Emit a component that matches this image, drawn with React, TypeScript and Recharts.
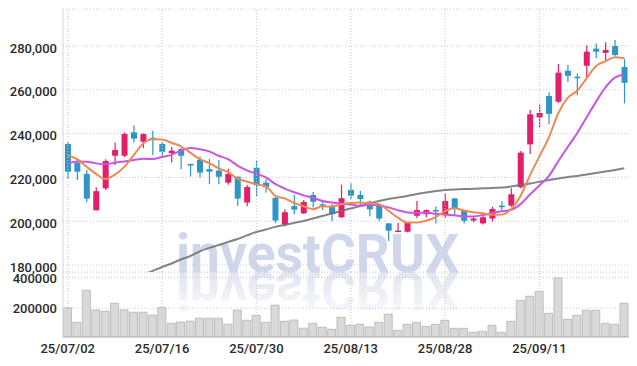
import React from 'react';
import { ComposedChart, Bar, Line, XAxis, YAxis, CartesianGrid, ReferenceLine } from 'recharts';

const dates = [
  '25/07/02', '25/07/03', '25/07/04', '25/07/07', '25/07/08', '25/07/09', '25/07/10', '25/07/11', '25/07/14', '25/07/15',
  '25/07/16', '25/07/17', '25/07/18', '25/07/21', '25/07/22', '25/07/23', '25/07/24', '25/07/25', '25/07/28', '25/07/29',
  '25/07/30', '25/07/31', '25/08/01', '25/08/04', '25/08/05', '25/08/06', '25/08/07', '25/08/08', '25/08/11', '25/08/12',
  '25/08/13', '25/08/14', '25/08/18', '25/08/19', '25/08/20', '25/08/21', '25/08/22', '25/08/25', '25/08/26', '25/08/27',
  '25/08/28', '25/08/29', '25/09/01', '25/09/02', '25/09/03', '25/09/04', '25/09/05', '25/09/08', '25/09/09', '25/09/10',
  '25/09/11', '25/09/12', '25/09/15', '25/09/16', '25/09/17', '25/09/18', '25/09/19', '25/09/22', '25/09/23', '25/09/24',
];

const opens = [
  235250, 226700, 221600, 205000, 215000, 229900, 229900, 240600, 236300, 238100,
  235300, 231100, 233000, 226100, 228000, 223800, 223100, 217600, 220300, 208500,
  224400, 217600, 210700, 198500, 206900, 203600, 212000, 207700, 206500, 201800,
  214300, 212000, 208900, 207400, 199000, 195200, 195200, 202500, 203200, 205100,
  203200, 210400, 204700, 200300, 199000, 201200, 207100, 207100, 215500, 235100,
  247400, 257200, 254600, 268700, 266000, 271000, 278800, 276900, 280000, 270400,
];
const highs = [
  236300, 228400, 223400, 215500, 228300, 235900, 240500, 243800, 240100, 241300,
  236300, 233900, 233600, 226300, 229500, 228400, 228000, 224000, 220400, 216500,
  227700, 219100, 210900, 205400, 212000, 209700, 213300, 209700, 207900, 216700,
  217300, 213900, 209500, 207600, 199100, 199300, 199400, 209200, 205300, 206700,
  212700, 210600, 204800, 201900, 202400, 206600, 209100, 215000, 232100, 250800,
  253300, 258800, 271800, 271300, 267400, 280200, 281200, 281700, 282700, 274100,
];
const lows = [
  219300, 218800, 208600, 204900, 214300, 225700, 229300, 235900, 233300, 230200,
  229500, 226800, 223700, 220400, 219900, 216900, 216900, 216700, 206900, 206800,
  211500, 213000, 199200, 197700, 203200, 203300, 206300, 205100, 200100, 201500,
  210100, 207400, 202300, 200100, 191000, 195200, 194900, 201300, 201800, 199000,
  201500, 202800, 199000, 199600, 198500, 199800, 204800, 206600, 215000, 230700,
  242800, 244300, 254000, 263600, 257500, 265700, 274400, 272700, 275200, 253800,
];
const closes = [
  222600, 222600, 210300, 213700, 227500, 232500, 239800, 237700, 239800, 237400,
  231700, 232200, 229900, 225400, 222200, 222600, 220300, 221600, 210300, 215600,
  216400, 215500, 200300, 204100, 205300, 208800, 208900, 207100, 203300, 210500,
  211700, 210100, 205400, 201200, 195700, 195700, 199200, 205100, 205100, 204500,
  209200, 205600, 200200, 201200, 201800, 205600, 206400, 212300, 231300, 248800,
  249400, 249000, 267800, 266400, 265400, 277400, 277400, 278200, 275900, 263200,
];
const volumes = [
  203000, 108500, 318000, 189000, 181000, 232700, 189000, 174000, 174000, 155000,
  205000, 102000, 110500, 116000, 135000, 135000, 135000, 96000, 188000, 121600,
  154000, 108500, 220000, 115000, 123500, 70000, 102000, 76000, 63000, 141000,
  89000, 95500, 78000, 108500, 161000, 56000, 95500, 108500, 82000, 95500,
  121600, 69300, 69300, 43100, 49700, 89000, 43100, 115000, 252300, 278400,
  311000, 167300, 398000, 128100, 154000, 187000, 187000, 102000, 95500, 232700,
];
const ma5 = [
  230100, 228300, 224900, 221600, 219300, 221300, 224800, 230200, 235500, 237400,
  237300, 235800, 234200, 231300, 228300, 226500, 224100, 222400, 219400, 218100,
  216800, 215900, 211600, 210400, 208300, 206800, 205500, 206800, 206700, 207700,
  208300, 208500, 208200, 207800, 204800, 201600, 199400, 199400, 200200, 201900,
  204600, 205900, 204900, 204100, 203600, 202900, 203000, 205500, 211500, 220900,
  229600, 238200, 249300, 256300, 259600, 265200, 270900, 273000, 274900, 274400,
];
const ma10 = [
  226400, 227300, 227200, 226400, 226000, 226700, 227300, 227900, 228500, 228400,
  229300, 230300, 232200, 233400, 232900, 231900, 229900, 228300, 225400, 223200,
  221700, 220000, 217000, 214900, 213200, 211800, 210700, 209200, 208500, 208000,
  207600, 207000, 207500, 207200, 206300, 205000, 204000, 203800, 204000, 203400,
  203100, 202700, 202200, 202200, 202800, 203800, 204500, 205200, 207800, 212200,
  216300, 220600, 227400, 233900, 240200, 247400, 254500, 261100, 265600, 267000,
];
const ma60 = [
  null, null, null, null, null, null, null, null, 175600, 177300,
  179100, 180700, 182500, 184100, 186200, 187800, 189100, 190500, 191900, 193500,
  195100, 196200, 197400, 198300, 199200, 200100, 201200, 202400, 203500, 204700,
  205800, 206900, 208100, 209200, 210100, 210800, 211500, 212400, 213100, 213800,
  214200, 214500, 214700, 214800, 215000, 215200, 215400, 215800, 216500, 217200,
  218000, 218800, 219500, 220200, 220600, 221300, 222000, 222700, 223400, 224200,
];

const priceTicks = [180000, 200000, 220000, 240000, 260000, 280000];
const volumeTicks = [200000, 400000];
const labelDates = ['25/07/02', '25/07/16', '25/07/30', '25/08/13', '25/08/28', '25/09/11'];

const rows = dates.map((date, i) => ({
  date,
  open: opens[i],
  high: highs[i],
  low: lows[i],
  close: closes[i],
  volume: volumes[i],
  ma5: ma5[i],
  ma10: ma10[i],
  ma60: ma60[i],
}));

const UP = '#e41e68';
const DOWN = '#2e95c8';
const FONT = "Roboto, 'DejaVu Sans', sans-serif";
const BORDER = '#d6d6d6';
const GRID = '#c4c9dd';

const Candle = (props: any) => {
  const { x, y, width, height, payload } = props;
  if (x == null || y == null || !payload) return null;
  const { open, close, high, low } = payload;
  const top = Math.min(y, y + height);
  const h = Math.abs(height);
  const ratio = high > low ? h / (high - low) : 0;
  const yOf = (v: number) => top + (high - v) * ratio;
  const up = close >= open;
  const color = up ? UP : DOWN;
  const cx = x + width / 2;
  const bTop = yOf(Math.max(open, close));
  const bBot = yOf(Math.min(open, close));
  return (
    <g>
      <line x1={cx} x2={cx} y1={top} y2={top + h} stroke={color} strokeWidth={1.2} />
      <rect x={cx - 3} y={bTop} width={6} height={Math.max(1.5, bBot - bTop)} fill={color} />
    </g>
  );
};

const PriceTick = (props: any) => {
  const { x, y, payload } = props;
  return (
    <text x={x} y={y + 6.6} textAnchor="end" fontFamily={FONT} fontSize={13} fontWeight={500} fill="#2b2b2b">
      {Number(payload.value).toLocaleString('en-US')}
    </text>
  );
};

const VolTick = (props: any) => {
  const { x, y, payload } = props;
  return (
    <text x={x} y={y + 5} textAnchor="end" fontFamily={FONT} fontSize={13} fontWeight={500} fill="#2b2b2b">
      {String(payload.value)}
    </text>
  );
};

const DateTick = (props: any) => {
  const { x, y, payload } = props;
  return (
    <text x={x} y={y + 15.5} textAnchor="middle" fontFamily={FONT} fontSize={13} fontWeight={500} fill="#2b2b2b">
      {payload.value}
    </text>
  );
};

export default function App() {
  return (
    <div style={{ position: 'absolute', left: 0, top: 0, width: 637, height: 366, background: '#fff', overflow: 'hidden' }}>
      <svg width={637} height={366} style={{ position: 'absolute', left: 0, top: 0 }}>
        <defs>
          <linearGradient id="wmfade" gradientUnits="userSpaceOnUse" x1="0" y1="272" x2="0" y2="232">
            <stop offset="0" stopColor="#e2e5ee" stopOpacity={1} />
            <stop offset="1" stopColor="#e2e5ee" stopOpacity={0.25} />
          </linearGradient>
        </defs>
        <text x={176} y={272} fontFamily={FONT} fontSize={54} fontWeight={700} fill="#d1d7ea" textLength={283} lengthAdjust="spacingAndGlyphs">
          investCRUX
        </text>
        <text x={176} y={272} transform="translate(0,544) scale(1,-1)" fontFamily={FONT} fontSize={54} fontWeight={700} fill="url(#wmfade)" textLength={283} lengthAdjust="spacingAndGlyphs">
          investCRUX
        </text>
      </svg>

      <div style={{ position: 'absolute', left: 0, top: 0 }}>
        <ComposedChart width={637} height={282} data={rows} margin={{ top: 9, right: 8, left: 0, bottom: 10 }}>
          <CartesianGrid vertical={false} stroke={GRID} strokeDasharray="1 2" />
          <XAxis dataKey="date" type="category" height={0} tick={false} tickLine={false} axisLine={{ stroke: BORDER }} />
          <XAxis xAxisId="top" dataKey="date" orientation="top" height={0} tick={false} tickLine={false} axisLine={{ stroke: BORDER }} />
          <YAxis
            width={63}
            domain={[176800, 296900]}
            ticks={priceTicks}
            interval={0}
            allowDataOverflow
            tickSize={4}
            tickMargin={2}
            tickLine={false}
            axisLine={{ stroke: BORDER }}
            tick={PriceTick}
          />
          <YAxis yAxisId="right" orientation="right" width={0} tick={false} tickLine={false} axisLine={{ stroke: BORDER }} />
          {labelDates.map((d) => (
            <ReferenceLine key={d} x={d} stroke={GRID} strokeDasharray="1 2" />
          ))}
          <Bar
            dataKey={(d: any) => [d.low, d.high]}
            shape={Candle}
            isAnimationActive={false}
          />
          <Line type="monotone" dataKey="ma60" stroke="#6e6e6e" strokeOpacity={0.85} strokeWidth={2} dot={false} isAnimationActive={false} connectNulls={false} />
          <Line type="monotone" dataKey="ma10" stroke="#c955e6" strokeWidth={2} dot={false} isAnimationActive={false} />
          <Line type="monotone" dataKey="ma5" stroke="#ee8a52" strokeWidth={2} dot={false} isAnimationActive={false} />
        </ComposedChart>
      </div>

      <div style={{ position: 'absolute', left: 0, top: 272 }}>
        <ComposedChart width={637} height={94} data={rows} margin={{ top: 0, right: 8, left: 0, bottom: 0 }} barCategoryGap="5%">
          <CartesianGrid vertical={false} stroke={GRID} strokeDasharray="1 2" />
          <XAxis
            dataKey="date"
            type="category"
            height={29}
            ticks={labelDates}
            interval={0}
            tickSize={0}
            tickMargin={0}
            tickLine={false}
            axisLine={{ stroke: '#b5b5b5' }}
            tick={DateTick}
          />
          <YAxis
            width={63}
            domain={[12400, 437000]}
            ticks={volumeTicks}
            interval={0}
            allowDataOverflow
            tickSize={4}
            tickMargin={2}
            tickLine={false}
            axisLine={{ stroke: BORDER }}
            tick={VolTick}
          />
          <YAxis yAxisId="right" orientation="right" width={0} tick={false} tickLine={false} axisLine={{ stroke: BORDER }} />
          {labelDates.map((d) => (
            <ReferenceLine key={d} x={d} stroke={GRID} strokeDasharray="1 2" />
          ))}
          <Bar dataKey="volume" fill="#d9d9d9" stroke="#b3b3b3" strokeWidth={0.8} isAnimationActive={false} />
        </ComposedChart>
      </div>
    </div>
  );
}
